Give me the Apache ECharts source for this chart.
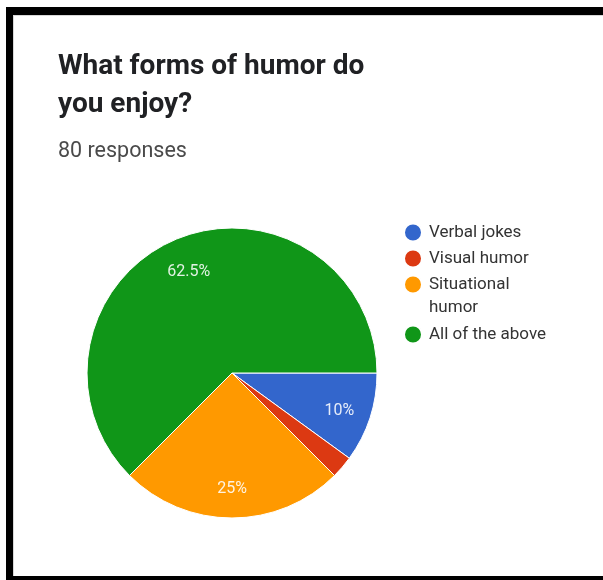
<!DOCTYPE html>
<html>
<head>
<meta charset="utf-8">
<title>What forms of humor do you enjoy?</title>
<script src="https://cdn.jsdelivr.net/npm/echarts@6/dist/echarts.min.js"></script>
<style>
  html, body { margin: 0; padding: 0; background: #fff; overflow: hidden; }
  #chart { position: absolute; left: 0; top: 0; width: 603px; height: 580px; }
  #frame {
    position: absolute; left: 6px; top: 7px; width: 640px; height: 573px;
    box-sizing: border-box; border-style: solid; border-color: #000;
    border-width: 8px 0 4px 7px; pointer-events: none;
    box-shadow: inset 1px 1px 0 #d8d8d8;
  }
</style>
</head>
<body>
<div id="chart"></div>
<div id="frame"></div>
<script>
// Survey question and answers
const questionTitle = 'What forms of humor do\nyou enjoy?';
const responseNote = '80 responses';
const categories = ['Verbal jokes', 'Visual humor', 'Situational humor', 'All of the above'];
const responses = [8, 2, 20, 50];
const sliceColors = ['#3366cc', '#dc3912', '#ff9900', '#109618'];

const total = responses.reduce((a, b) => a + b, 0);

const sliceData = categories.map((name, i) => ({
  name: name,
  value: responses[i],
  itemStyle: { color: sliceColors[i] }
}));

// Percent labels sit on a transparent ring; tiny slices stay unlabelled
const labelData = categories.map((name, i) => ({
  name: name,
  value: responses[i],
  label: { show: responses[i] / total >= 0.05 }
}));

// One legend per entry so the wrapped entry keeps its marker on the first line
const legendTops = [222.5, 248.5, 250, 324.5];
const legends = categories.map((name, i) => {
  const wrapped = i === 2;
  return {
    data: [name],
    orient: 'vertical',
    left: 403,
    top: legendTops[i],
    padding: 0,
    icon: 'circle',
    itemWidth: 22,
    itemHeight: 18,
    formatter: wrapped ? function (n) { return '\n' + n.replace(' ', '\n'); } : '{name}',
    textStyle: {
      fontFamily: 'Roboto', fontSize: 17, color: '#333',
      lineHeight: wrapped ? 23 : 18
    }
  };
});

const chart = echarts.init(document.getElementById('chart'));
chart.setOption({
  animation: false,
  backgroundColor: 'transparent',
  title: [
    {
      text: questionTitle,
      left: 58, top: 48, padding: 0,
      textStyle: { fontFamily: 'Roboto', fontSize: 28, fontWeight: 'bold', color: '#202124', lineHeight: 38 }
    },
    {
      text: responseNote,
      left: 58, top: 140, padding: 0,
      textStyle: { fontFamily: 'Roboto', fontSize: 21.5, fontWeight: 'normal', color: '#4a4a4a', lineHeight: 24 }
    }
  ],
  legend: legends,
  series: [
    {
      type: 'pie',
      center: [232, 373],
      radius: [0, 145],
      startAngle: 0,
      clockwise: true,
      label: { show: false },
      labelLine: { show: false },
      itemStyle: { borderColor: '#fff', borderWidth: 1 },
      emphasis: { scale: false },
      data: sliceData
    },
    {
      type: 'pie',
      center: [232, 373],
      radius: [0, 220],
      startAngle: 0,
      clockwise: true,
      silent: true,
      legendHoverLink: false,
      itemStyle: { color: 'rgba(0,0,0,0)' },
      label: {
        show: true,
        position: 'inside',
        formatter: '{d}%',
        fontFamily: 'Roboto',
        fontSize: 16,
        offset: [0, 3],
        color: 'rgba(255,255,255,0.88)'
      },
      labelLine: { show: false },
      emphasis: { disabled: true },
      data: labelData
    }
  ]
});
</script>
</body>
</html>
